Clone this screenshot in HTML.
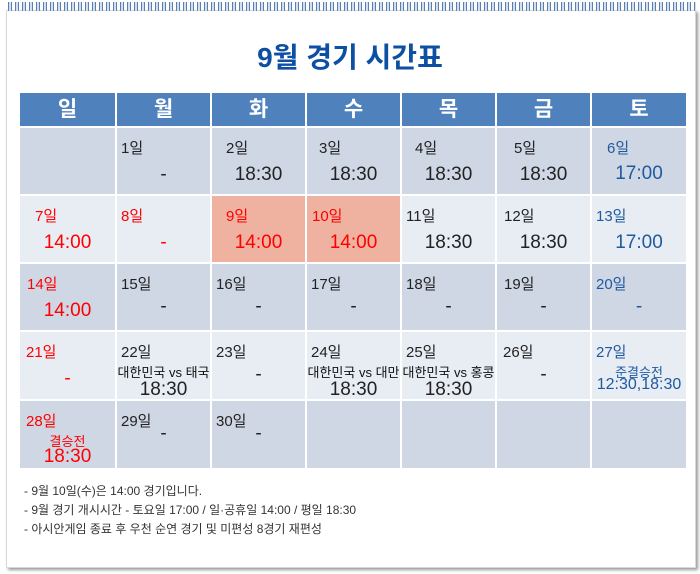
<!DOCTYPE html>
<html><head><meta charset="utf-8"><style>
*{margin:0;padding:0;box-sizing:border-box}
body{width:700px;height:574px;background:#fff;position:relative;overflow:hidden;font-family:"Liberation Sans","Noto Sans CJK KR",sans-serif}
.card{position:absolute;left:6px;top:10px;width:690px;height:558px;background:#fff;border:1px solid #d8d8d8;box-shadow:2px 2px 3px #9a9a9a}
.spiral{position:absolute;left:6px;top:2px;width:690px;height:9px;background:repeating-linear-gradient(90deg,transparent 0 2px,#5a7fb0 2px 3px,#cfe0f0 3px 5px,#5a7fb0 5px 6px,transparent 6px 7px)}
.title{position:absolute;left:0;width:700px;top:36px;text-align:center;font-size:28px;font-weight:bold;color:#0d4fa3;letter-spacing:0px}
.h{position:absolute;top:93px;height:33px;background:#4f81bd;color:#fff;font-weight:bold;font-size:21px;text-align:center;line-height:33px}
.c{position:absolute;background:#cfd7e5}
.l{background:#e8ecf3}
.hl{background:#efb1a0}
.d{position:absolute;top:9px;font-size:15px;color:#222}
.t{position:absolute;left:0;width:100%;text-align:center;top:36px;font-size:19px;color:#222}
.s{position:absolute;left:0;width:100%;text-align:center;top:30px;font-size:13px;color:#111}
.t2{top:46px}
.r{color:#f00}.b{color:#1f5aa0}
.notes{position:absolute;left:24px;top:482px;font-size:12px;color:#333;line-height:19px}
</style></head><body>
<div class="card"></div>
<div class="spiral"></div>
<div class="title">9월 경기 시간표</div>

<div class="h" style="left:20px;width:95px">일</div>
<div class="h" style="left:117px;width:93px">월</div>
<div class="h" style="left:212px;width:93px">화</div>
<div class="h" style="left:307px;width:93px">수</div>
<div class="h" style="left:402px;width:93px">목</div>
<div class="h" style="left:497px;width:93px">금</div>
<div class="h" style="left:592px;width:94px">토</div>

<!-- row 1 -->
<div class="c" style="left:20px;top:128px;width:95px;height:66px"></div>
<div class="c" style="left:117px;top:128px;width:93px;height:66px"><span class="d" style="left:4px">1일</span><span class="t">-</span></div>
<div class="c" style="left:212px;top:128px;width:93px;height:66px"><span class="d" style="left:14px">2일</span><span class="t">18:30</span></div>
<div class="c" style="left:307px;top:128px;width:93px;height:66px"><span class="d" style="left:12px">3일</span><span class="t">18:30</span></div>
<div class="c" style="left:402px;top:128px;width:93px;height:66px"><span class="d" style="left:13px">4일</span><span class="t">18:30</span></div>
<div class="c" style="left:497px;top:128px;width:93px;height:66px"><span class="d" style="left:17px">5일</span><span class="t">18:30</span></div>
<div class="c" style="left:592px;top:128px;width:94px;height:66px"><span class="d b" style="left:15px">6일</span><span class="t b" style="top:35px">17:00</span></div>

<!-- row 2 -->
<div class="c l" style="left:20px;top:196px;width:95px;height:66px"><span class="d r" style="left:15px">7일</span><span class="t r">14:00</span></div>
<div class="c l" style="left:117px;top:196px;width:93px;height:66px"><span class="d r" style="left:4px">8일</span><span class="t r">-</span></div>
<div class="c hl" style="left:212px;top:196px;width:93px;height:66px"><span class="d r" style="left:14px">9일</span><span class="t r">14:00</span></div>
<div class="c hl" style="left:307px;top:196px;width:93px;height:66px"><span class="d r" style="left:5px">10일</span><span class="t r">14:00</span></div>
<div class="c l" style="left:402px;top:196px;width:93px;height:66px"><span class="d" style="left:4px">11일</span><span class="t">18:30</span></div>
<div class="c l" style="left:497px;top:196px;width:93px;height:66px"><span class="d" style="left:7px">12일</span><span class="t">18:30</span></div>
<div class="c l" style="left:592px;top:196px;width:94px;height:66px"><span class="d b" style="left:4px">13일</span><span class="t b">17:00</span></div>

<!-- row 3 -->
<div class="c" style="left:20px;top:264px;width:95px;height:66px"><span class="d r" style="left:7px">14일</span><span class="t r">14:00</span></div>
<div class="c" style="left:117px;top:264px;width:93px;height:66px"><span class="d" style="left:4px">15일</span><span class="t" style="top:32px">-</span></div>
<div class="c" style="left:212px;top:264px;width:93px;height:66px"><span class="d" style="left:4px">16일</span><span class="t" style="top:32px">-</span></div>
<div class="c" style="left:307px;top:264px;width:93px;height:66px"><span class="d" style="left:4px">17일</span><span class="t" style="top:32px">-</span></div>
<div class="c" style="left:402px;top:264px;width:93px;height:66px"><span class="d" style="left:4px">18일</span><span class="t" style="top:32px">-</span></div>
<div class="c" style="left:497px;top:264px;width:93px;height:66px"><span class="d" style="left:7px">19일</span><span class="t" style="top:32px">-</span></div>
<div class="c" style="left:592px;top:264px;width:94px;height:66px"><span class="d b" style="left:4px">20일</span><span class="t b" style="top:32px">-</span></div>

<!-- row 4 -->
<div class="c l" style="left:20px;top:332px;width:95px;height:67px"><span class="d r" style="left:6px">21일</span><span class="t r">-</span></div>
<div class="c l" style="left:117px;top:332px;width:93px;height:67px"><span class="d" style="left:4px">22일</span><span class="s">대한민국 vs 태국</span><span class="t" style="top:47px">18:30</span></div>
<div class="c l" style="left:212px;top:332px;width:93px;height:67px"><span class="d" style="left:4px">23일</span><span class="t" style="top:32px">-</span></div>
<div class="c l" style="left:307px;top:332px;width:93px;height:67px"><span class="d" style="left:4px">24일</span><span class="s">대한민국 vs 대만</span><span class="t" style="top:47px">18:30</span></div>
<div class="c l" style="left:402px;top:332px;width:93px;height:67px"><span class="d" style="left:4px">25일</span><span class="s">대한민국 vs 홍콩</span><span class="t" style="top:47px">18:30</span></div>
<div class="c l" style="left:497px;top:332px;width:93px;height:67px"><span class="d" style="left:6px">26일</span><span class="t" style="top:32px">-</span></div>
<div class="c l" style="left:592px;top:332px;width:94px;height:67px"><span class="d b" style="left:4px">27일</span><span class="s b" style="color:#1f5aa0">준결승전</span><span class="t b" style="top:44px;font-size:16px">12:30,18:30</span></div>

<!-- row 5 -->
<div class="c" style="left:20px;top:401px;width:95px;height:67px"><span class="d r" style="left:6px">28일</span><span class="s r" style="color:#f00">결승전</span><span class="t r" style="top:45px">18:30</span></div>
<div class="c" style="left:117px;top:401px;width:93px;height:67px"><span class="d" style="left:4px">29일</span><span class="t" style="top:22px">-</span></div>
<div class="c" style="left:212px;top:401px;width:93px;height:67px"><span class="d" style="left:4px">30일</span><span class="t" style="top:22px">-</span></div>
<div class="c" style="left:307px;top:401px;width:93px;height:67px"></div>
<div class="c" style="left:402px;top:401px;width:93px;height:67px"></div>
<div class="c" style="left:497px;top:401px;width:93px;height:67px"></div>
<div class="c" style="left:592px;top:401px;width:94px;height:67px"></div>

<div class="notes">
<div>- 9월 10일(수)은 14:00 경기입니다.</div>
<div>- 9월 경기 개시시간 - 토요일 17:00 / 일·공휴일 14:00 / 평일 18:30</div>
<div>- 아시안게임 종료 후 우천 순연 경기 및 미편성 8경기 재편성</div>
</div>
</body></html>
